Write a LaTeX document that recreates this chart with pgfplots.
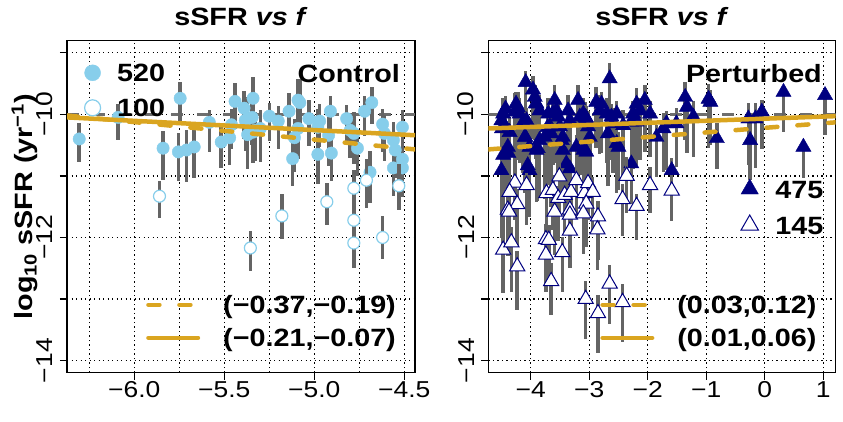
\documentclass[border=0pt]{standalone}
\usepackage{fontspec}
\setmainfont{Liberation Sans}[FakeStretch=1.15]
\usepackage{pgfplots}
\usepackage{pgfplotstable}
\pgfplotsset{compat=1.18}

\definecolor{skyblue}{RGB}{135,206,235}
\definecolor{navyb}{RGB}{0,0,128}
\definecolor{golden}{RGB}{218,165,32}
\definecolor{bargray}{RGB}{100,100,100}
\definecolor{refgray}{RGB}{110,110,110}

% control, filled: x y err+ err-
\pgfplotstableread{
x y ep em
-6.306 -10.40 0.26 0.37
-6.09 -10.05 0.22 0.37
-5.745 -9.74 0.27 0.37
-5.84 -10.55 0.28 0.52
-5.755 -10.61 0.30 0.48
-5.71 -10.58 0.32 0.52
-5.667 -10.53 0.38 0.50
-5.583 -10.13 0.20 0.48
-5.517 -10.45 0.25 0.42
-5.47 -10.38 0.28 0.45
-5.46 -10.17 0.25 0.40
-5.44 -9.79 0.30 0.45
-5.39 -9.90 0.28 0.50
-5.37 -10.07 0.35 0.45
-5.37 -10.33 0.30 0.55
-5.345 -10.05 0.30 0.45
-5.34 -9.74 0.35 0.40
-5.34 -10.29 0.28 0.50
-5.30 -10.23 0.30 0.55
-5.25 -10.03 0.22 0.40
-5.20 -10.11 0.25 0.45
-5.14 -9.95 0.30 0.45
-5.09 -9.77 0.35 0.40
-5.08 -9.81 0.38 0.45
-5.09 -10.23 0.35 0.50
-5.11 -10.38 0.30 0.55
-5.12 -10.72 0.28 0.45
-5.03 -10.07 0.30 0.45
-4.97 -10.11 0.28 0.42
-4.98 -10.21 0.30 0.50
-4.98 -10.65 0.30 0.48
-4.92 -10.34 0.30 0.50
-4.905 -10.63 0.30 0.45
-4.91 -9.95 0.25 0.45
-4.82 -10.07 0.22 0.40
-4.80 -10.26 0.28 0.45
-4.78 -10.31 0.35 0.50
-4.76 -10.55 0.30 0.45
-4.72 -9.95 0.25 0.40
-4.68 -9.81 0.25 0.35
-4.69 -10.94 0.35 0.50
-4.62 -10.16 0.25 0.45
-4.61 -10.31 0.30 0.45
-4.56 -10.42 0.30 0.45
-4.55 -10.58 0.30 0.45
-4.51 -10.21 0.28 0.50
-4.51 -10.73 0.35 0.45
-4.56 -10.87 0.30 0.45
-4.51 -10.87 0.32 0.48
-5.383 -10.10 0.30 0.50
-5.33 -10.26 0.30 0.50
}\ctrlfill

\pgfplotstableread{
x y ep em
-5.86 -11.33 0.25 0.35
-5.355 -12.17 0.27 0.37
-5.18 -11.65 0.35 0.37
-4.93 -11.42 0.30 0.37
-4.78 -11.20 0.30 0.65
-4.78 -11.72 0.40 0.40
-4.78 -12.09 0.40 0.40
-4.71 -11.07 0.35 0.45
-4.62 -12.00 0.35 0.35
-4.53 -11.16 0.35 0.40
}\ctrlopen

\pgfplotstableread{
x y ep em
-4.086 -9.48 0.18 0.75
-3.96 -9.60 0.22 0.80
-3.93 -9.72 0.20 0.70
-3.90 -9.83 0.25 0.85
-4.43 -9.91 0.20 0.90
-4.47 -9.99 0.25 1.10
-4.50 -10.10 0.20 0.95
-4.49 -10.23 0.25 1.20
-4.36 -10.29 0.25 0.80
-4.39 -10.53 0.20 0.90
-4.47 -10.66 0.25 1.30
-4.50 -10.91 0.20 1.10
-4.25 -9.83 0.20 0.75
-4.27 -9.96 0.30 0.95
-4.19 -9.99 0.25 0.80
-4.07 -10.10 0.20 0.85
-4.10 -10.37 0.25 0.90
-4.02 -10.53 0.30 0.70
-4.05 -10.83 0.25 0.80
-4.02 -10.91 0.20 0.75
-3.90 -10.58 0.25 0.85
-3.85 -10.42 0.20 0.90
-3.76 -10.37 0.20 1.00
-3.85 -9.94 0.25 0.70
-3.70 -9.99 0.25 0.80
-3.67 -10.20 0.30 0.95
-3.65 -10.31 0.20 1.20
-3.59 -9.77 0.25 0.70
-3.56 -9.94 0.20 0.85
-3.53 -10.04 0.25 0.90
-3.50 -10.20 0.25 0.80
-3.47 -10.42 0.20 0.90
-3.45 -10.58 0.25 0.80
-3.39 -10.80 0.20 0.85
-3.33 -10.88 0.25 0.90
-3.36 -9.94 0.25 0.85
-3.33 -10.10 0.20 0.80
-3.19 -9.77 0.25 0.70
-3.16 -10.04 0.20 0.95
-3.10 -9.99 0.25 0.80
-3.05 -10.07 0.20 1.00
-3.02 -10.20 0.25 0.90
-3.22 -10.53 0.20 0.80
-3.10 -10.58 0.25 0.75
-3.05 -10.61 0.20 0.90
-2.99 -10.37 0.25 0.85
-2.88 -9.80 0.25 0.75
-2.79 -9.83 0.20 0.80
-2.82 -9.94 0.25 0.70
-2.70 -9.99 0.25 0.80
-2.65 -9.42 0.25 0.55
-2.62 -10.04 0.20 0.70
-2.59 -10.15 0.25 0.80
-2.53 -9.99 0.20 0.75
-2.68 -10.31 0.25 0.85
-2.53 -10.47 0.20 0.80
-2.50 -10.53 0.25 0.70
-2.28 -10.80 0.25 0.65
-2.25 -9.99 0.20 0.90
-2.19 -9.83 0.25 0.75
-2.13 -9.94 0.20 0.80
-2.05 -9.77 0.25 0.85
-1.96 -9.99 0.20 0.70
-2.28 -10.12 0.25 0.75
-2.19 -10.12 0.20 0.70
-2.42 -10.18 0.25 0.90
-1.85 -10.37 0.20 0.65
-1.73 -10.23 0.25 0.70
-1.68 -10.15 0.20 0.75
-1.59 -10.91 0.20 0.55
-1.51 -10.15 0.25 0.70
-1.36 -9.72 0.25 0.70
-1.33 -9.88 0.20 0.75
-1.22 -10.04 0.25 0.65
-0.96 -9.75 0.25 0.80
-0.93 -9.80 0.20 0.70
-0.82 -10.39 0.25 0.50
-0.28 -10.07 0.25 0.75
-0.16 -10.07 0.25 0.80
-0.05 -9.96 0.20 0.60
-0.25 -10.42 0.30 0.65
0.32 -9.64 0.05 0.65
0.66 -10.53 0.10 0.50
1.03 -9.69 0.05 0.65
-4.22 -9.89 0.25 0.85
-4.43 -10.21 0.20 1.00
-4.14 -10.15 0.25 0.80
-3.91 -9.82 0.20 0.90
-3.62 -9.98 0.25 0.85
-3.71 -10.21 0.20 0.90
-3.06 -10.05 0.25 0.80
-4.38 -10.63 0.20 0.75
-3.88 -10.55 0.25 0.85
-3.45 -10.37 0.20 0.80
-4.09 -10.37 0.25 0.85
}\pertfill

\pgfplotstableread{
x y ep em
-4.27 -11.11 0.25 0.60
-4.36 -11.26 0.25 0.75
-4.07 -11.15 0.20 0.65
-3.73 -11.28 0.25 0.70
-3.62 -11.23 0.25 0.65
-3.53 -11.36 0.20 0.70
-3.51 -11.01 0.25 0.60
-3.42 -11.31 0.25 0.65
-3.31 -11.26 0.20 0.70
-3.22 -11.07 0.25 0.60
-3.08 -11.28 0.25 0.65
-3.02 -11.12 0.20 0.60
-2.94 -11.26 0.25 0.65
-3.05 -11.45 0.25 0.70
-2.36 -11.00 0.30 0.60
-2.43 -11.38 0.25 0.60
-2.19 -11.49 0.20 0.55
-1.96 -11.15 0.30 0.45
-1.59 -11.24 0.25 0.50
-4.39 -11.55 0.25 0.75
-4.23 -11.46 0.25 0.70
-4.37 -11.58 0.25 0.65
-4.47 -12.20 0.30 0.70
-4.33 -12.08 0.25 0.80
-4.23 -12.47 0.25 0.70
-3.74 -12.03 0.25 0.65
-3.69 -12.04 0.25 0.60
-3.74 -12.28 0.25 0.60
-3.65 -12.71 0.30 0.55
-3.46 -12.24 0.25 0.65
-3.59 -11.58 0.25 0.70
-3.33 -11.55 0.25 0.65
-3.33 -11.63 0.25 0.70
-3.33 -11.89 0.25 0.60
-3.10 -11.61 0.25 0.65
-2.85 -11.66 0.25 0.70
-2.86 -11.87 0.25 0.65
-3.06 -13.00 0.30 0.65
-2.85 -13.23 0.30 0.65
-2.65 -12.75 0.30 0.65
-2.43 -13.05 0.30 0.65
}\pertopen

\tikzset{bigtext/.style={font=\bfseries\fontsize{25}{25}\selectfont}}

\pgfplotsset{
  panel/.style={
    scale only axis, width=348pt, height=332pt,
    anchor=south west,
    ymin=-14.195, ymax=-8.805,
    ytick={-14,-13,-12,-11,-10,-9},
    yticklabels={−14,,−12,,−10,},
    tick align=outside, major tick length=7pt,
    tick pos=left,
    axis line style={line width=1.2pt},
    every tick/.style={black, line width=1.2pt},
    grid style={black, line width=1.3pt, dash pattern=on 1.3pt off 3.2pt},
    xmajorgrids, ymajorgrids,
    tick label style={font=\fontsize{23}{23}\selectfont, inner sep=0pt},
    yticklabel style={rotate=90, anchor=south},
    xticklabel style={anchor=north},
    yticklabel shift=7pt, xticklabel shift=2pt,
    title style={font=\bfseries\fontsize{25}{25}\selectfont, at={(0.5,1)}, anchor=base, yshift=9pt},
    clip mode=individual,
    legend cell align=left,
  },
  overlay/.style={
    scale only axis, width=348pt, height=332pt, anchor=south west,
    ymin=-14.195, ymax=-8.805, hide axis,
  },
  bars/.style={
    forget plot, only marks,
    error bars/y dir=both, error bars/y explicit, error bars/error mark=none,
    error bars/error bar style={line width=3.5pt, color=bargray},
  },
  markleg/.style={legend image code/.code={\draw[##1] plot coordinates {(0pt,0pt)};}},
  lineleg/.style={legend image code/.code={\draw[##1] (2.25pt,0pt) -- (51.75pt,0pt);}},
  refline/.style={forget plot, refgray, line width=2.5pt, dash pattern=on 12pt off 14pt},
  fitsolid/.style={golden, line width=4.5pt, line cap=round},
  fitdash/.style={golden, line width=4.5pt, line cap=round, dash pattern=on 11pt off 20pt},
}

\begin{document}
\begin{tikzpicture}
\path[use as bounding box] (0pt,0pt) rectangle (843pt,421pt);

% ---- left panel: control
\begin{axis}[panel, at={(67pt,48.3pt)},
  xmin=-6.374, xmax=-4.44,
  xtick={-6,-5.5,-5,-4.5},
  xticklabels={−6.0,−5.5,−5.0,−4.5},
  minor xtick={-6.25,-5.75,-5.25,-4.75},
  xminorgrids, minor tick length=0pt,
  minor grid style={black, line width=1.3pt, dash pattern=on 1.3pt off 3.2pt},
  title={sSFR \textit{vs f}},
  ylabel={log\textsubscript{10} sSFR (yr\textsuperscript{−1})},
  ylabel style={font=\bfseries\fontsize{25}{25}\selectfont, at={(axis description cs:-0.121,0.5)}, anchor=center},
  legend style={draw=none, fill=none, inner sep=0pt, at={(axis description cs:0.050,0.931)}, anchor=north west,
    row sep=17pt, column sep=16.5pt, nodes={inner sep=0pt, text height=18pt, text depth=0pt},
    font=\bfseries\fontsize{25}{25}\selectfont},
]
\addplot[refline] coordinates {(-6.374,-10) (-4.44,-10)};
\addplot[bars, mark=*, mark size=6.2pt, mark options={fill=skyblue, draw=skyblue}]
  table[x=x, y=y, y error plus=ep, y error minus=em] {\ctrlfill};
\addplot[bars, mark=*, mark size=6pt, mark options={fill=white, draw=skyblue, line width=1.2pt}]
  table[x=x, y=y, y error plus=ep, y error minus=em] {\ctrlopen};
\addplot[forget plot, fitdash] coordinates {(-6.374,-10.02) (-4.44,-10.57)};
\addplot[forget plot, fitsolid] coordinates {(-6.374,-10.05) (-4.44,-10.34)};
\addlegendimage{markleg, only marks, mark=*, mark size=8pt, mark options={fill=skyblue, draw=skyblue}}
\addlegendentry{520}
\addlegendimage{markleg, only marks, mark=*, mark size=8pt, mark options={fill=white, draw=skyblue, line width=1.2pt}}
\addlegendentry{100}
\end{axis}
\begin{axis}[overlay, at={(67pt,48.3pt)}, xmin=-6.374, xmax=-4.44,
  legend style={draw=none, fill=none, inner sep=0pt, at={(axis description cs:0.227,0.232)}, anchor=north west,
    row sep=15pt, column sep=23pt, nodes={inner sep=0pt, text height=18pt, text depth=0pt},
    font=\bfseries\fontsize{25}{25}\selectfont},
  legend cell align=left]
\addlegendimage{lineleg, fitdash}
\addlegendentry{(−0.37,−0.19)}
\addlegendimage{lineleg, fitsolid}
\addlegendentry{(−0.21,−0.07)}
\end{axis}

% ---- right panel: perturbed
\begin{axis}[panel, at={(488.3pt,48.3pt)}, width=347.4pt,
  xmin=-4.724, xmax=1.212,
  xtick={-4,-3,-2,-1,0,1},
  xticklabels={−4,−3,−2,−1,0,1},
  title={sSFR \textit{vs f}},
  legend style={draw=none, fill=none, inner sep=0pt, at={(axis description cs:0.727,0.584)}, anchor=north west,
    row sep=17pt, column sep=17pt, nodes={inner sep=0pt, text height=18pt, text depth=0pt},
    font=\bfseries\fontsize{25}{25}\selectfont},
]
\addplot[refline] coordinates {(-4.724,-10) (1.212,-10)};
\addplot[bars, mark=triangle*, mark size=8.8pt, mark options={fill=navyb, draw=navyb}]
  table[x=x, y=y, y error plus=ep, y error minus=em] {\pertfill};
\addplot[bars, mark=triangle*, mark size=8.8pt, mark options={fill=white, draw=navyb, line width=1pt}]
  table[x=x, y=y, y error plus=ep, y error minus=em] {\pertopen};
\addplot[forget plot, fitdash] coordinates {(-4.724,-10.57) (1.212,-10.13)};
\addplot[forget plot, fitsolid] coordinates {(-4.724,-10.23) (1.212,-10.03)};
\addlegendimage{markleg, only marks, mark=triangle*, mark size=10pt, mark options={fill=navyb, draw=navyb}}
\addlegendentry{475}
\addlegendimage{markleg, only marks, mark=triangle*, mark size=10pt, mark options={fill=white, draw=navyb, line width=1pt}}
\addlegendentry{145}
\end{axis}
\begin{axis}[overlay, at={(488.3pt,48.3pt)}, width=347.4pt, xmin=-4.724, xmax=1.212,
  legend style={draw=none, fill=none, inner sep=0pt, at={(axis description cs:0.322,0.232)}, anchor=north west,
    row sep=15pt, column sep=23pt, nodes={inner sep=0pt, text height=18pt, text depth=0pt},
    font=\bfseries\fontsize{25}{25}\selectfont},
  legend cell align=left]
\addlegendimage{lineleg, fitdash}
\addlegendentry{(0.03,0.12)}
\addlegendimage{lineleg, fitsolid}
\addlegendentry{(0.01,0.06)}
\end{axis}

\node[bigtext, anchor=base east, inner sep=0pt] at (400pt,338pt) {Control};
\node[bigtext, anchor=base east, inner sep=0pt] at (822pt,338pt) {Perturbed};
\end{tikzpicture}
\end{document}
